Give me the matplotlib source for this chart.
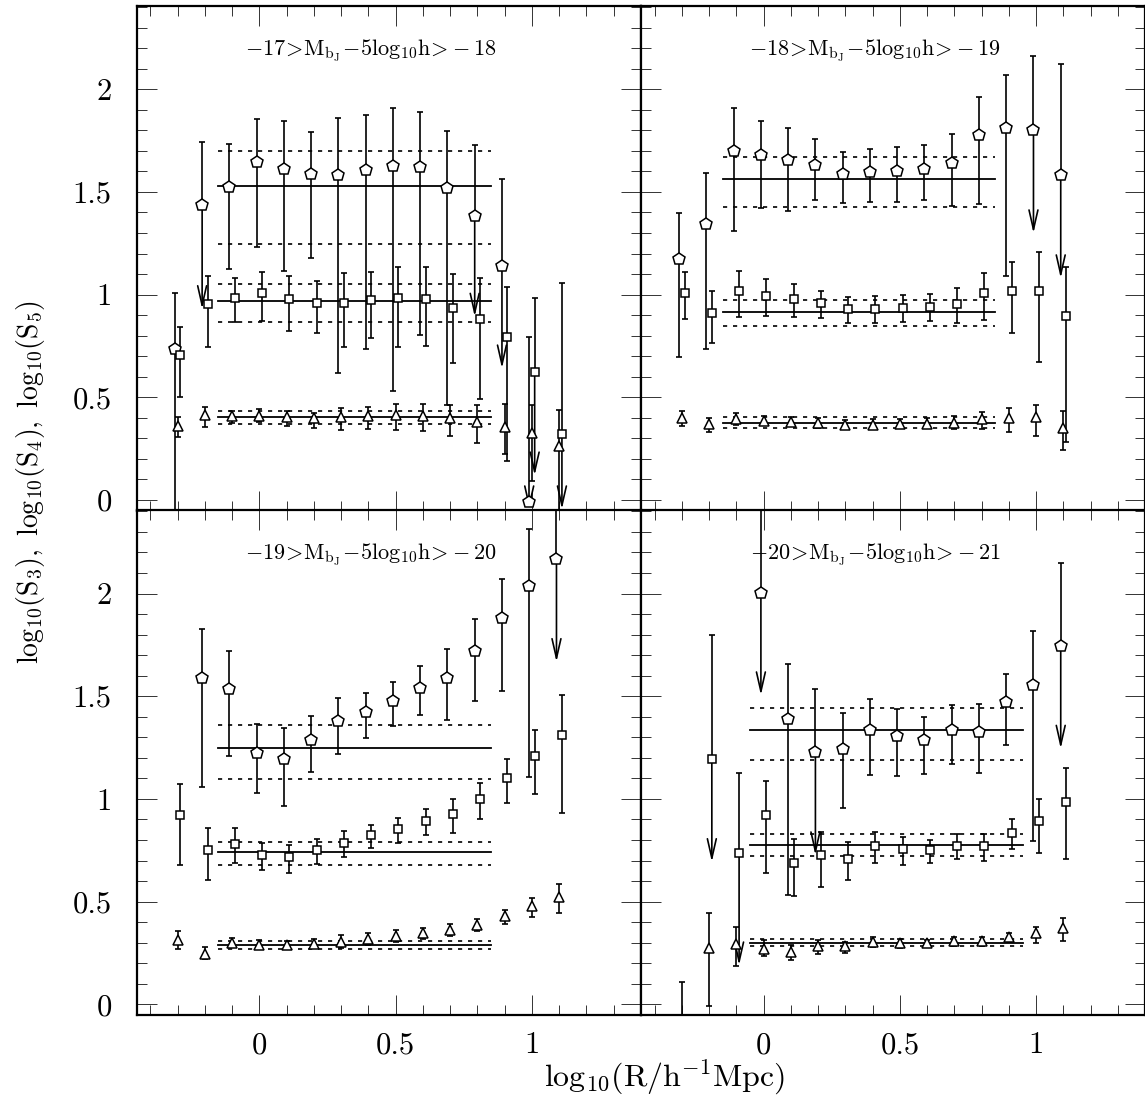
#!/usr/bin/env python3
"""Hierarchical amplitudes S3, S4, S5 against scale, four luminosity bins."""
import matplotlib

matplotlib.use("Agg")
import matplotlib.pyplot as plt
import numpy as np
from matplotlib.ticker import FormatStrFormatter, MultipleLocator

nan = np.nan

# log10(R / h^-1 Mpc) of the measurements
R = [-0.3, -0.2, -0.1, 0.0, 0.1, 0.2, 0.3, 0.4, 0.5, 0.6, 0.7, 0.8, 0.9, 1.0, 1.1]

PANEL_LABELS = [
    r"$-17\!>\!\mathrm{M_{b_J}}\!-\!5\mathrm{log_{10}h}\!>\!-18$",
    r"$-18\!>\!\mathrm{M_{b_J}}\!-\!5\mathrm{log_{10}h}\!>\!-19$",
    r"$-19\!>\!\mathrm{M_{b_J}}\!-\!5\mathrm{log_{10}h}\!>\!-20$",
    r"$-20\!>\!\mathrm{M_{b_J}}\!-\!5\mathrm{log_{10}h}\!>\!-21$",
]

# panel 1: -17 > M > -18   (value, upper end, lower end, arrow tip)
P1_S5 = [0.735, 1.437, 1.526, 1.645, 1.614, 1.589, 1.58, 1.607, 1.628, 1.62, 1.518, 1.383, 1.141, -0.008, nan]
P1_S5_HI = [1.01, 1.742, 1.734, 1.856, 1.843, 1.794, 1.859, 1.873, 1.911, 1.888, 1.799, 1.726, 1.562, 0.796, nan]
P1_S5_LO = [-0.3, nan, 1.123, 1.234, 1.117, 1.18, 0.62, 0.737, 0.532, 0.804, 0.463, nan, nan, nan, nan]
P1_S5_ARROW = [nan, 0.93, nan, nan, nan, nan, nan, nan, nan, nan, nan, 0.893, 0.641, -0.045, nan]
P1_S4 = [0.706, 0.953, 0.985, 1.007, 0.977, 0.961, 0.961, 0.974, 0.985, 0.979, 0.933, 0.88, 0.792, 0.625, 0.32]
P1_S4_HI = [0.841, 1.091, 1.08, 1.109, 1.089, 1.068, 1.104, 1.112, 1.136, 1.132, 1.099, 1.08, 1.036, 0.985, 1.055]
P1_S4_LO = [0.5, 0.747, 0.865, 0.873, 0.825, 0.815, 0.744, 0.787, 0.744, 0.752, 0.666, 0.49, 0.192, nan, nan]
P1_S4_ARROW = [nan, nan, nan, nan, nan, nan, nan, nan, nan, nan, nan, nan, nan, 0.12, -0.045]
P1_S3 = [0.36, 0.414, 0.409, 0.409, 0.403, 0.398, 0.403, 0.409, 0.414, 0.409, 0.398, 0.382, 0.357, 0.326, 0.263]
P1_S3_HI = [0.406, 0.455, 0.435, 0.442, 0.435, 0.425, 0.446, 0.455, 0.468, 0.466, 0.463, 0.463, 0.466, 0.463, 0.438]
P1_S3_LO = [0.305, 0.357, 0.377, 0.382, 0.36, 0.352, 0.341, 0.346, 0.341, 0.338, 0.312, 0.276, 0.224, 0.094, -0.3]

# panel 2: -18 > M > -19
P2_S5 = [1.175, 1.344, 1.701, 1.68, 1.653, 1.632, 1.586, 1.596, 1.604, 1.612, 1.64, 1.778, 1.81, 1.802, 1.58]
P2_S5_HI = [1.396, 1.591, 1.907, 1.847, 1.81, 1.756, 1.692, 1.708, 1.718, 1.726, 1.782, 1.964, 2.067, 2.162, 2.122]
P2_S5_LO = [0.695, 0.734, 1.312, 1.42, 1.409, 1.461, 1.445, 1.45, 1.453, 1.461, 1.429, 1.442, 1.093, nan, nan]
P2_S5_ARROW = [nan, nan, nan, nan, nan, nan, nan, nan, nan, nan, nan, nan, nan, 1.299, 1.08]
P2_S4 = [1.01, 0.912, 1.019, 0.995, 0.977, 0.958, 0.929, 0.929, 0.937, 0.938, 0.953, 1.006, 1.019, 1.019, 0.896]
P2_S4_HI = [1.109, 1.019, 1.117, 1.075, 1.052, 1.019, 0.99, 0.994, 0.998, 1.002, 1.031, 1.107, 1.161, 1.206, 1.136]
P2_S4_LO = [0.88, 0.763, 0.893, 0.898, 0.89, 0.885, 0.864, 0.86, 0.869, 0.873, 0.864, 0.877, 0.815, 0.674, 0.281]
P2_S3 = [0.398, 0.37, 0.393, 0.386, 0.381, 0.373, 0.365, 0.365, 0.37, 0.37, 0.377, 0.393, 0.398, 0.403, 0.352]
P2_S3_HI = [0.435, 0.401, 0.422, 0.411, 0.406, 0.401, 0.39, 0.393, 0.393, 0.398, 0.409, 0.43, 0.446, 0.463, 0.435]
P2_S3_LO = [0.36, 0.33, 0.365, 0.365, 0.36, 0.352, 0.344, 0.344, 0.349, 0.349, 0.346, 0.346, 0.333, 0.312, 0.244]

# panel 3: -19 > M > -20
P3_S5 = [nan, 1.589, 1.537, 1.226, 1.193, 1.289, 1.378, 1.424, 1.476, 1.542, 1.591, 1.721, 1.881, 2.036, 2.17]
P3_S5_HI = [nan, 1.825, 1.721, 1.364, 1.343, 1.404, 1.489, 1.518, 1.567, 1.648, 1.729, 1.878, 2.073, 2.312, 2.6]
P3_S5_LO = [nan, 1.058, 1.208, 1.029, 0.964, 1.131, 1.221, 1.299, 1.356, 1.407, 1.383, 1.476, 1.524, 1.107, nan]
P3_S5_ARROW = [nan, nan, nan, nan, nan, nan, nan, nan, nan, nan, nan, nan, nan, nan, 1.667]
P3_S4 = [0.92, 0.75, 0.782, 0.726, 0.718, 0.75, 0.786, 0.823, 0.852, 0.893, 0.925, 0.998, 1.102, 1.208, 1.31]
P3_S4_HI = [1.075, 0.856, 0.856, 0.787, 0.778, 0.804, 0.843, 0.875, 0.907, 0.953, 0.998, 1.078, 1.196, 1.338, 1.508]
P3_S4_LO = [0.677, 0.604, 0.69, 0.653, 0.641, 0.685, 0.718, 0.761, 0.787, 0.823, 0.834, 0.901, 0.981, 1.023, 0.933]
P3_S3 = [0.315, 0.244, 0.299, 0.291, 0.287, 0.295, 0.304, 0.32, 0.333, 0.347, 0.36, 0.388, 0.43, 0.477, 0.523]
P3_S3_HI = [0.357, 0.279, 0.325, 0.312, 0.308, 0.32, 0.336, 0.347, 0.36, 0.373, 0.39, 0.414, 0.461, 0.519, 0.588]
P3_S3_LO = [0.268, 0.219, 0.279, 0.274, 0.268, 0.274, 0.274, 0.291, 0.304, 0.32, 0.331, 0.356, 0.39, 0.425, 0.446]

# panel 4: -20 > M > -21
P4_S5 = [nan, nan, nan, 2.003, 1.388, 1.229, 1.245, 1.338, 1.305, 1.286, 1.338, 1.326, 1.472, 1.557, 1.745]
P4_S5_HI = [nan, nan, nan, 2.6, 1.656, 1.537, 1.42, 1.485, 1.44, 1.399, 1.456, 1.464, 1.61, 1.818, 2.149]
P4_S5_LO = [nan, nan, nan, nan, 0.531, nan, 0.958, 1.115, 1.11, 1.123, 1.172, 1.127, 1.261, 0.794, nan]
P4_S5_ARROW = [nan, nan, nan, 1.505, nan, 0.726, nan, nan, nan, nan, nan, nan, nan, nan, 1.245]
P4_S4 = [nan, 1.196, 0.737, 0.92, 0.69, 0.726, 0.709, 0.771, 0.755, 0.753, 0.771, 0.769, 0.836, 0.891, 0.985]
P4_S4_HI = [nan, 1.797, 1.127, 1.086, 0.807, 0.839, 0.791, 0.839, 0.815, 0.802, 0.828, 0.831, 0.901, 0.998, 1.151]
P4_S4_LO = [nan, nan, nan, 0.641, 0.526, 0.571, 0.607, 0.69, 0.68, 0.69, 0.709, 0.696, 0.758, 0.739, 0.709]
P4_S4_ARROW = [nan, 0.693, 0.19, nan, nan, nan, nan, nan, nan, nan, nan, nan, nan, nan, nan]
P4_S3 = [-0.25, 0.276, 0.295, 0.271, 0.255, 0.282, 0.282, 0.304, 0.299, 0.299, 0.307, 0.307, 0.328, 0.347, 0.372]
P4_S3_HI = [0.109, 0.445, 0.377, 0.312, 0.287, 0.312, 0.304, 0.328, 0.32, 0.315, 0.328, 0.328, 0.349, 0.377, 0.42]
P4_S3_LO = [-0.6, -0.01, 0.187, 0.235, 0.218, 0.247, 0.25, 0.279, 0.276, 0.279, 0.282, 0.282, 0.304, 0.3, 0.308]

# mean amplitude and its 1-sigma band, per panel: (mean, upper, lower) for S5, S4, S3
FIT_S5 = [(1.531, 1.701, 1.245), (1.562, 1.669, 1.425), (1.25, 1.362, 1.099), (1.334, 1.443, 1.19)]
FIT_S4 = [(0.969, 1.054, 0.865), (0.914, 0.974, 0.847), (0.742, 0.791, 0.680), (0.778, 0.831, 0.721)]
FIT_S3 = [(0.403, 0.433, 0.370), (0.377, 0.403, 0.352), (0.287, 0.308, 0.268), (0.300, 0.320, 0.282)]
FIT_RANGE = [(-0.15, 0.85), (-0.15, 0.85), (-0.15, 0.85), (-0.05, 0.95)]

PANELS = [
    dict(s5=(P1_S5, P1_S5_HI, P1_S5_LO, P1_S5_ARROW), s4=(P1_S4, P1_S4_HI, P1_S4_LO, P1_S4_ARROW),
         s3=(P1_S3, P1_S3_HI, P1_S3_LO, None)),
    dict(s5=(P2_S5, P2_S5_HI, P2_S5_LO, P2_S5_ARROW), s4=(P2_S4, P2_S4_HI, P2_S4_LO, None),
         s3=(P2_S3, P2_S3_HI, P2_S3_LO, None)),
    dict(s5=(P3_S5, P3_S5_HI, P3_S5_LO, P3_S5_ARROW), s4=(P3_S4, P3_S4_HI, P3_S4_LO, None),
         s3=(P3_S3, P3_S3_HI, P3_S3_LO, None)),
    dict(s5=(P4_S5, P4_S5_HI, P4_S5_LO, P4_S5_ARROW), s4=(P4_S4, P4_S4_HI, P4_S4_LO, P4_S4_ARROW),
         s3=(P4_S3, P4_S3_HI, P4_S3_LO, None)),
]

# marker style and small x offset of each series
STYLE = {
    "s5": dict(marker="p", ms=8.6, dx=-0.01),
    "s4": dict(marker="s", ms=6.0, dx=0.01),
    "s3": dict(marker="^", ms=7.2, dx=0.0),
}

XLIM = (-0.45, 1.40)
YLIM = (-0.052, 2.405)

plt.rcParams["mathtext.fontset"] = "cm"
plt.rcParams["font.family"] = ["cmr10", "DejaVu Serif"]
plt.rcParams["axes.formatter.use_mathtext"] = True


def draw_series(axis, x, key, values, upper, lower, arrows):
    values = np.asarray(values, dtype=float)
    upper = np.asarray(upper, dtype=float)
    lower = np.asarray(lower, dtype=float)
    style = STYLE[key]
    xs = x + style["dx"]
    # an arrow replaces the lower half of the bar
    lower = np.where(np.isnan(lower), values, lower)
    axis.errorbar(
        xs, values, yerr=[values - lower, upper - values], fmt="none",
        ecolor="black", elinewidth=1.2, capsize=2.2, capthick=1.2, zorder=2,
    )
    axis.plot(
        xs, values, ls="none", marker=style["marker"], ms=style["ms"],
        mfc="white", mec="black", mew=1.1, zorder=4,
    )
    if arrows is None:
        return
    for xi, value, tip in zip(xs, values, arrows):
        if np.isnan(tip):
            continue
        axis.annotate(
            "", xy=(xi, tip), xytext=(xi, value),
            arrowprops=dict(
                arrowstyle="->,head_length=1.4,head_width=0.32",
                lw=1.2, color="black", shrinkA=0, shrinkB=0, mutation_scale=10,
            ),
            zorder=3,
        )


def draw_fit(axis, fit, span):
    mean, high, low = fit
    axis.plot(span, [mean, mean], color="black", lw=1.3, zorder=1)
    for level in (high, low):
        axis.plot(span, [level, level], color="black", lw=1.2, ls=(0, (2.5, 3.5)), zorder=1)


def main():
    figure = plt.figure(figsize=(11.45, 10.98), dpi=100)
    left, middle_x = 0.1194, 0.5598
    width = 0.4404
    bottom, middle_y = 0.0756, 0.5349
    height = 0.4596
    origins = [(left, middle_y), (middle_x, middle_y), (left, bottom), (middle_x, bottom)]
    x = np.asarray(R)

    for index, (origin, panel) in enumerate(zip(origins, PANELS)):
        axis = figure.add_axes([origin[0], origin[1], width, height])
        for key in ("s5", "s4", "s3"):
            draw_series(axis, x, key, *panel[key])
        span = FIT_RANGE[index]
        draw_fit(axis, FIT_S5[index], span)
        draw_fit(axis, FIT_S4[index], span)
        draw_fit(axis, FIT_S3[index], span)
        axis.text(0.465, 0.912, PANEL_LABELS[index], transform=axis.transAxes,
                  ha="center", va="center", fontsize=16)

        axis.set_xlim(*XLIM)
        axis.set_ylim(*YLIM)
        axis.xaxis.set_major_locator(MultipleLocator(0.5))
        axis.xaxis.set_minor_locator(MultipleLocator(0.1))
        axis.yaxis.set_major_locator(MultipleLocator(0.5))
        axis.yaxis.set_minor_locator(MultipleLocator(0.1))
        axis.xaxis.set_major_formatter(FormatStrFormatter("%g"))
        axis.yaxis.set_major_formatter(FormatStrFormatter("%g"))
        axis.tick_params(which="both", direction="in", top=True, right=True,
                         width=0.7, color="#333333", labelsize=22)
        axis.tick_params(which="major", length=14.5)
        axis.tick_params(which="minor", length=7.2)
        axis.tick_params(axis="x", pad=12)
        axis.tick_params(axis="y", pad=18)
        axis.tick_params(labelbottom=index >= 2, labelleft=index % 2 == 0)
        for spine in axis.spines.values():
            spine.set_linewidth(1.6)

    figure.text(0.58, 0.019, r"$\mathrm{log}_{10}(\mathrm{R/h^{-1}Mpc})$",
                ha="center", va="center", fontsize=23)
    figure.text(0.027, 0.561,
                r"$\mathrm{log}_{10}(\mathrm{S}_3),\ \mathrm{log}_{10}(\mathrm{S}_4),\ \mathrm{log}_{10}(\mathrm{S}_5)$",
                ha="center", va="center", rotation=90, fontsize=20)
    figure.savefig("out.png", dpi=100)
    plt.close(figure)


if __name__ == "__main__":
    main()
